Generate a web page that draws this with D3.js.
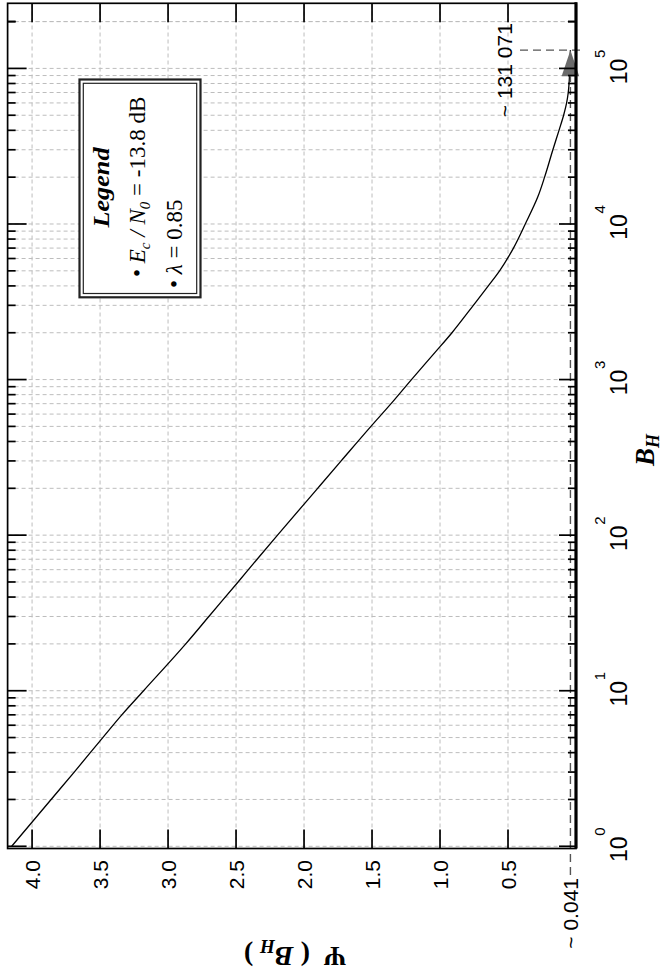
<!DOCTYPE html>
<html>
<head>
<meta charset="utf-8">
<script src="https://cdn.jsdelivr.net/npm/d3@7"></script>
<style>
  body { margin: 0; background: #fff; }
  svg { display: block; }
  text { white-space: pre; }
</style>
</head>
<body>
<script>
// Ψ(B_H) against the bandwidth B_H (log scale)
const bandwidth = [1, 2, 3, 5, 7, 10, 20, 30, 50, 70, 100, 200, 300, 500, 700,
  1000, 1500, 2000, 3000, 4000, 5000, 7000, 10000, 15000, 20000, 30000, 40000,
  50000, 60000, 70000, 80000, 100000, 131071];
const psiValues = [4.15, 3.86, 3.69, 3.48, 3.34, 3.18, 2.87, 2.70, 2.485, 2.345, 2.195, 1.90, 1.727, 1.508, 1.36,
  1.21, 1.035, 0.912, 0.755, 0.645, 0.562, 0.460, 0.373, 0.28, 0.231, 0.170, 0.125,
  0.091, 0.069, 0.057, 0.051, 0.046, 0.041];

const psiTicks = [0.5, 1.0, 1.5, 2.0, 2.5, 3.0, 3.5, 4.0];
const decadeExponents = [0, 1, 2, 3, 4, 5];
const minimumPoint = { bandwidth: 131071, psi: 0.041 };
const minimumLabels = { bandwidth: "~ 131 071", psi: "~ 0.041" };
const legendParams = { ecn0: "-13.8 dB", lambda: "0.85" };

// Chart is laid out landscape, then turned a quarter turn counter-clockwise.
const PAGE_W = 671, PAGE_H = 979;

const svg = d3.select("body").append("svg")
  .attr("width", PAGE_W).attr("height", PAGE_H);
const g = svg.append("g")
  .attr("transform", `translate(0,${PAGE_H}) rotate(-90)`);

const plotL = 130.5, plotR = 975.7, plotT = 7.6, plotB = 576;
const x = d3.scaleLog().domain([1, 262144]).range([132.7, plotR]);
const y = d3.scaleLinear().domain([0, 4.18]).range([plotB, plotT]);

const SANS = "'Liberation Sans', Arial, sans-serif";
const SERIF = "'Liberation Serif', 'Times New Roman', serif";

// log ticks 1..9 x 10^k
const logTicks = [];
decadeExponents.forEach(k => {
  for (let m = 1; m <= 9; m++) {
    const v = m * Math.pow(10, k);
    if (v <= 262144) logTicks.push({ v, major: m === 1 });
  }
});
logTicks.push({ v: 2e5, major: false });

// grid
const grid = g.append("g");
grid.selectAll("line.gx").data(logTicks).join("line")
  .attr("x1", d => x(d.v)).attr("x2", d => x(d.v))
  .attr("y1", plotT).attr("y2", plotB)
  .attr("stroke", "#bdbdbd").attr("stroke-width", 1)
  .attr("stroke-dasharray", "4,3");
grid.selectAll("line.gy").data(psiTicks).join("line")
  .attr("x1", plotL).attr("x2", plotR)
  .attr("y1", d => y(d)).attr("y2", d => y(d))
  .attr("stroke", "#bdbdbd").attr("stroke-width", 1)
  .attr("stroke-dasharray", "4,3");

// legend box
const lg = g.append("g");
const lgBox = { x0: 681.7, x1: 899.5, y0: 79.5, y1: 200.5 };
lg.append("rect")
  .attr("x", lgBox.x0).attr("y", lgBox.y0)
  .attr("width", lgBox.x1 - lgBox.x0).attr("height", lgBox.y1 - lgBox.y0)
  .attr("fill", "#fff").attr("stroke", "#222").attr("stroke-width", 2.2);
lg.append("rect")
  .attr("x", lgBox.x0 + 3.8).attr("y", lgBox.y0 + 3.8)
  .attr("width", lgBox.x1 - lgBox.x0 - 7.6).attr("height", lgBox.y1 - lgBox.y0 - 7.6)
  .attr("fill", "none").attr("stroke", "#222").attr("stroke-width", 1.2);
lg.append("text")
  .attr("x", 791.5).attr("y", 108.5)
  .attr("text-anchor", "middle")
  .attr("font-family", SERIF).attr("font-size", 24)
  .attr("font-weight", "bold").attr("font-style", "italic")
  .attr("textLength", 80).attr("lengthAdjust", "spacingAndGlyphs")
  .text("Legend");

const item1 = lg.append("text")
  .attr("x", 702).attr("y", 145)
  .attr("font-family", SERIF).attr("font-size", 23);
item1.append("tspan").text("• ");
item1.append("tspan").attr("font-style", "italic").text("E");
item1.append("tspan").attr("font-style", "italic").attr("font-size", 15).attr("dy", 5).text("c");
item1.append("tspan").attr("dy", -5).attr("font-style", "italic").text(" / ");
item1.append("tspan").attr("font-style", "italic").text("N");
item1.append("tspan").attr("font-style", "italic").attr("font-size", 15).attr("dy", 5).text("0");
item1.append("tspan").attr("dy", -5).text(" = " + legendParams.ecn0);

const item2 = lg.append("text")
  .attr("x", 691).attr("y", 181.5)
  .attr("font-family", SERIF).attr("font-size", 23);
item2.append("tspan").text("• ");
item2.append("tspan").attr("font-style", "italic").text("λ");
item2.append("tspan").text(" = " + legendParams.lambda);

// curve
const series = bandwidth.map((b, i) => ({ b, p: psiValues[i] }));
g.append("path")
  .datum(series)
  .attr("fill", "none").attr("stroke", "#000").attr("stroke-width", 1.3)
  .attr("d", d3.line().x(d => x(d.b)).y(d => y(d.p)).curve(d3.curveMonotoneX));

// minimum markers
const mx = x(minimumPoint.bandwidth), my = y(minimumPoint.psi);
g.append("line")
  .attr("x1", 104).attr("x2", mx - 26)
  .attr("y1", my).attr("y2", my)
  .attr("stroke", "#555").attr("stroke-width", 1.4).attr("stroke-dasharray", "8,5");
g.append("line")
  .attr("x1", mx).attr("x2", mx)
  .attr("y1", 520).attr("y2", 583)
  .attr("stroke", "#555").attr("stroke-width", 1.4).attr("stroke-dasharray", "8,5");
g.append("path")
  .attr("d", `M${mx},${my} L${mx - 26},${my - 8.8} L${mx - 26},${my + 8.8} Z`)
  .attr("fill", "#6a6a6a");
g.append("text")
  .attr("x", mx - 20).attr("y", 512)
  .attr("text-anchor", "middle")
  .attr("font-family", SANS).attr("font-size", 21)
  .text(minimumLabels.bandwidth);
g.append("text")
  .attr("x", 101).attr("y", my)
  .attr("text-anchor", "end").attr("dominant-baseline", "central")
  .attr("font-family", SANS).attr("font-size", 21)
  .text(minimumLabels.psi);

// frame
g.append("rect")
  .attr("x", plotL).attr("y", plotT)
  .attr("width", plotR - plotL).attr("height", plotB - plotT)
  .attr("fill", "none").attr("stroke", "#000").attr("stroke-width", 1.7);
g.append("line")
  .attr("x1", plotL).attr("x2", plotR + 1)
  .attr("y1", plotB).attr("y2", plotB)
  .attr("stroke", "#000").attr("stroke-width", 3.2);

// ticks on the bandwidth axes
const ticks = g.append("g").attr("stroke", "#000").attr("stroke-width", 1.7);
ticks.selectAll("line.tt").data(logTicks).join("line")
  .attr("x1", d => x(d.v)).attr("x2", d => x(d.v))
  .attr("y1", plotT).attr("y2", d => plotT + (d.major ? 19 : 8));
ticks.selectAll("line.tb").data(logTicks).join("line")
  .attr("x1", d => x(d.v)).attr("x2", d => x(d.v))
  .attr("y1", plotB).attr("y2", d => plotB - (d.major ? 17 : 8));
// ticks on the Ψ axes
ticks.selectAll("line.tl").data(psiTicks).join("line")
  .attr("x1", plotL).attr("x2", plotL + 19)
  .attr("y1", d => y(d)).attr("y2", d => y(d));
ticks.selectAll("line.tr").data(psiTicks).join("line")
  .attr("x1", plotR).attr("x2", plotR - 19)
  .attr("y1", d => y(d)).attr("y2", d => y(d));

// Ψ tick labels
const fmt = d3.format(".1f");
g.append("g").selectAll("text").data(psiTicks).join("text")
  .attr("x", 119).attr("y", d => y(d))
  .attr("text-anchor", "end").attr("dominant-baseline", "central")
  .attr("font-family", SANS).attr("font-size", 21)
  .text(d => fmt(d));

// bandwidth decade labels 10^k
const dl = g.append("g").selectAll("g").data(decadeExponents).join("g")
  .attr("transform", k => `translate(${x(Math.pow(10, k))},0)`);
dl.append("text")
  .attr("x", -3).attr("y", 627)
  .attr("text-anchor", "middle")
  .attr("font-family", SANS).attr("font-size", 23)
  .text("10");
dl.append("text")
  .attr("x", 10.5).attr("y", 605)
  .attr("font-family", SANS).attr("font-size", 15)
  .text(k => String(k));

// axis titles
const bt = g.append("text")
  .attr("x", 529).attr("y", 654)
  .attr("text-anchor", "middle")
  .attr("font-family", SERIF).attr("font-size", 27)
  .attr("font-weight", "bold").attr("font-style", "italic");
bt.append("tspan").text("B");
bt.append("tspan").attr("font-size", 18).attr("dy", 5).text("H");

const pt = g.append("text")
  .attr("transform", `translate(32,${(plotT + plotB) / 2 + 3}) rotate(-90)`)
  .attr("text-anchor", "middle")
  .attr("font-family", SERIF).attr("font-size", 28).attr("font-weight", "bold");
pt.append("tspan").text("Ψ  ( ");
pt.append("tspan").attr("font-style", "italic").text("B");
pt.append("tspan").attr("font-style", "italic").attr("font-size", 19).attr("dy", 7).text("H");
pt.append("tspan").attr("dy", -7).text(" )");
</script>
</body>
</html>
